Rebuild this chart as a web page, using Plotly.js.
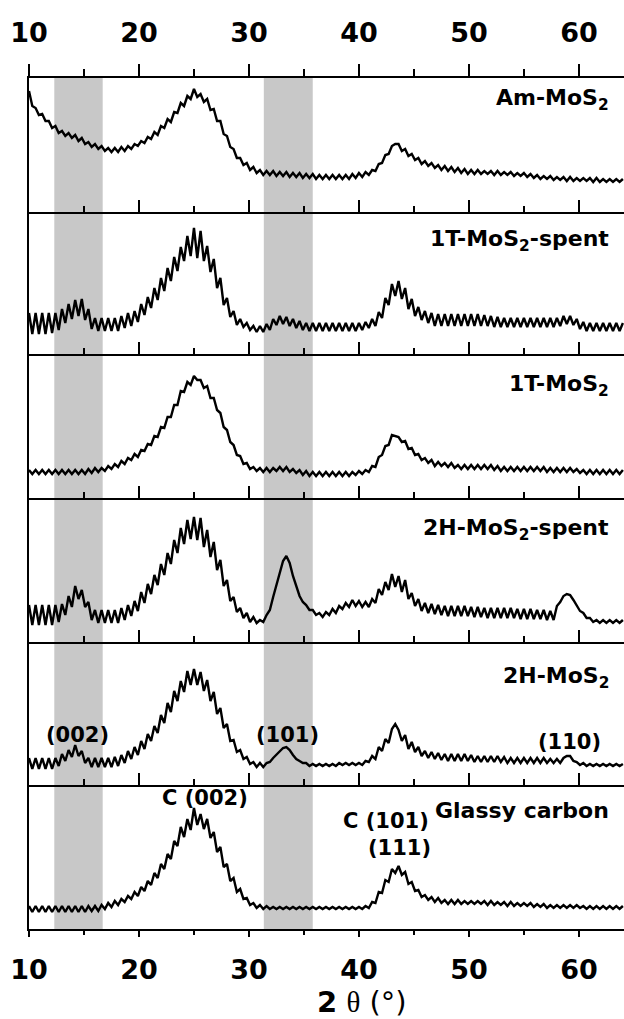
<!DOCTYPE html>
<html>
<head>
<meta charset="utf-8">
<script src="https://cdn.plot.ly/plotly-3.0.1.min.js"></script>
<style>
  html, body { margin: 0; padding: 0; background: #fff; }
  #chart { width: 624px; height: 1019px; }
</style>
</head>
<body>
<div id="chart"></div>
<script>
// Diffraction angle grid (degrees 2θ)
const twoTheta = [
  10, 10.3, 10.6, 10.9, 11.2, 11.5, 11.8, 12.1, 12.4, 12.7,
  13, 13.3, 13.6, 13.9, 14.2, 14.5, 14.8, 15.1, 15.4, 15.7,
  16, 16.3, 16.6, 16.9, 17.2, 17.5, 17.8, 18.1, 18.4, 18.7,
  19, 19.3, 19.6, 19.9, 20.2, 20.5, 20.8, 21.1, 21.4, 21.7,
  22, 22.3, 22.6, 22.9, 23.2, 23.5, 23.8, 24.1, 24.4, 24.7,
  25, 25.3, 25.6, 25.9, 26.2, 26.5, 26.8, 27.1, 27.4, 27.7,
  28, 28.3, 28.6, 28.9, 29.2, 29.5, 29.8, 30.1, 30.4, 30.7,
  31, 31.3, 31.6, 31.9, 32.2, 32.5, 32.8, 33.1, 33.4, 33.7,
  34, 34.3, 34.6, 34.9, 35.2, 35.5, 35.8, 36.1, 36.4, 36.7,
  37, 37.3, 37.6, 37.9, 38.2, 38.5, 38.8, 39.1, 39.4, 39.7,
  40, 40.3, 40.6, 40.9, 41.2, 41.5, 41.8, 42.1, 42.4, 42.7,
  43, 43.3, 43.6, 43.9, 44.2, 44.5, 44.8, 45.1, 45.4, 45.7,
  46, 46.3, 46.6, 46.9, 47.2, 47.5, 47.8, 48.1, 48.4, 48.7,
  49, 49.3, 49.6, 49.9, 50.2, 50.5, 50.8, 51.1, 51.4, 51.7,
  52, 52.3, 52.6, 52.9, 53.2, 53.5, 53.8, 54.1, 54.4, 54.7,
  55, 55.3, 55.6, 55.9, 56.2, 56.5, 56.8, 57.1, 57.4, 57.7,
  58, 58.3, 58.6, 58.9, 59.2, 59.5, 59.8, 60.1, 60.4, 60.7,
  61, 61.3, 61.6, 61.9, 62.2, 62.5, 62.8, 63.1, 63.4, 63.7,
  64
];

// Intensities (arbitrary units, each pattern on its own scale)
const amMoS2 = [
  121, 106, 104, 97, 98, 91, 91, 84, 86, 79,
  81, 76, 79, 74, 77, 71, 74, 68, 70, 65,
  68, 63, 66, 61, 64, 60, 64, 60, 65, 61,
  66, 63, 68, 66, 71, 69, 75, 73, 80, 77,
  86, 84, 93, 90, 100, 99, 109, 106, 116, 113,
  123, 115, 118, 110, 113, 102, 103, 91, 91, 78,
  76, 65, 63, 54, 54, 47, 49, 42, 45, 39,
  42, 37, 41, 37, 41, 36, 40, 36, 40, 35,
  39, 35, 39, 34, 38, 34, 38, 33, 37, 33,
  37, 33, 37, 33, 37, 33, 37, 33, 38, 34,
  39, 35, 40, 37, 42, 41, 48, 49, 57, 58,
  66, 68, 68, 61, 63, 56, 58, 52, 54, 48,
  51, 46, 49, 44, 47, 42, 46, 41, 45, 40,
  44, 39, 43, 38, 42, 38, 42, 38, 41, 38,
  41, 37, 41, 37, 40, 37, 40, 36, 39, 36,
  39, 35, 38, 34, 37, 33, 36, 33, 36, 32,
  35, 32, 35, 31, 35, 31, 34, 31, 34, 31,
  34, 30, 34, 30, 33, 30, 33, 30, 33, 30,
  33
];
const t1MoS2Spent = [
  41, 20, 41, 20, 41, 20, 41, 21, 41, 24,
  45, 31, 50, 35, 54, 38, 55, 34, 45, 25,
  36, 23, 36, 23, 36, 23, 36, 23, 38, 26,
  41, 28, 43, 32, 50, 39, 57, 46, 66, 54,
  76, 63, 86, 73, 97, 83, 107, 93, 118, 98,
  126, 96, 123, 93, 108, 82, 95, 66, 76, 49,
  56, 37, 43, 29, 35, 27, 31, 24, 28, 22,
  28, 22, 30, 24, 35, 29, 38, 30, 37, 28,
  35, 26, 33, 24, 31, 23, 31, 23, 31, 23,
  31, 23, 31, 23, 31, 23, 31, 23, 31, 23,
  31, 24, 32, 26, 35, 28, 42, 36, 56, 49,
  70, 58, 73, 55, 66, 45, 55, 38, 47, 34,
  43, 31, 41, 28, 40, 28, 40, 28, 40, 28,
  40, 28, 40, 28, 40, 28, 40, 28, 39, 28,
  38, 27, 37, 27, 36, 27, 36, 27, 36, 27,
  36, 27, 36, 27, 36, 27, 36, 27, 36, 27,
  36, 28, 38, 30, 38, 29, 35, 25, 32, 23,
  31, 23, 31, 23, 31, 23, 31, 23, 31, 23,
  31
];
const t1MoS2 = [
  28, 24, 28, 24, 28, 24, 28, 24, 28, 24,
  28, 24, 28, 24, 28, 24, 28, 24, 29, 25,
  30, 26, 30, 27, 32, 29, 34, 31, 37, 34,
  40, 38, 44, 41, 48, 47, 54, 53, 62, 61,
  71, 70, 81, 81, 93, 93, 107, 106, 116, 113,
  122, 118, 118, 110, 112, 100, 100, 88, 85, 71,
  68, 56, 53, 43, 42, 34, 35, 29, 31, 27,
  30, 26, 30, 26, 30, 27, 31, 27, 31, 26,
  29, 25, 28, 23, 27, 22, 26, 22, 26, 22,
  26, 22, 26, 22, 26, 22, 26, 22, 26, 23,
  27, 24, 28, 26, 32, 31, 41, 43, 52, 53,
  63, 62, 61, 56, 57, 49, 50, 43, 44, 38,
  40, 35, 38, 32, 36, 32, 35, 31, 35, 30,
  33, 29, 33, 29, 33, 29, 33, 29, 33, 29,
  33, 28, 32, 27, 31, 27, 31, 27, 31, 27,
  31, 27, 31, 27, 31, 27, 31, 26, 30, 26,
  30, 26, 30, 26, 30, 26, 29, 25, 28, 24,
  28, 24, 28, 24, 28, 24, 28, 24, 28, 24,
  28
];
const h2MoS2Spent = [
  37, 17, 37, 17, 37, 17, 37, 17, 37, 20,
  38, 27, 46, 35, 56, 43, 52, 35, 40, 22,
  32, 19, 32, 19, 32, 19, 32, 19, 34, 22,
  37, 26, 41, 31, 50, 39, 58, 48, 67, 57,
  78, 67, 89, 78, 102, 89, 114, 98, 122, 103,
  125, 102, 124, 95, 112, 85, 100, 72, 82, 56,
  62, 41, 45, 30, 34, 24, 29, 20, 25, 19,
  22, 20, 27, 32, 45, 58, 71, 81, 86, 79,
  66, 55, 46, 40, 37, 32, 32, 27, 29, 25,
  30, 27, 33, 29, 36, 33, 39, 35, 42, 36,
  41, 35, 40, 35, 43, 39, 53, 47, 60, 52,
  68, 55, 66, 50, 62, 43, 49, 36, 43, 31,
  39, 29, 38, 28, 37, 27, 36, 26, 36, 26,
  36, 26, 36, 26, 35, 25, 35, 25, 34, 24,
  34, 24, 34, 24, 34, 24, 34, 24, 33, 23,
  33, 23, 33, 23, 32, 23, 32, 22, 31, 22,
  36, 40, 46, 48, 47, 42, 36, 31, 29, 24,
  24, 20, 22, 19, 22, 19, 22, 19, 22, 19,
  22
];
const h2MoS2 = [
  27, 16, 27, 16, 27, 16, 27, 16, 27, 19,
  31, 24, 35, 28, 40, 29, 34, 22, 27, 18,
  27, 18, 27, 18, 27, 18, 28, 19, 30, 22,
  34, 26, 38, 30, 44, 36, 51, 44, 59, 52,
  70, 62, 82, 73, 94, 84, 104, 93, 114, 100,
  116, 100, 113, 94, 105, 84, 93, 71, 77, 57,
  61, 44, 45, 33, 35, 26, 28, 21, 23, 18,
  22, 18, 22, 23, 27, 30, 34, 37, 38, 35,
  30, 26, 24, 22, 22, 19, 21, 19, 21, 19,
  21, 19, 21, 19, 22, 20, 22, 20, 22, 20,
  22, 20, 24, 23, 29, 26, 38, 34, 46, 42,
  56, 61, 55, 44, 50, 36, 43, 33, 38, 29,
  34, 27, 33, 26, 32, 25, 31, 24, 31, 24,
  31, 24, 31, 24, 30, 23, 29, 23, 29, 23,
  29, 23, 29, 23, 28, 22, 27, 22, 27, 22,
  27, 22, 27, 22, 27, 22, 27, 22, 26, 22,
  26, 22, 27, 29, 29, 24, 23, 20, 22, 19,
  21, 19, 21, 19, 21, 19, 21, 19, 21, 19,
  21
];
const glassyCarbon = [
  23, 17, 23, 17, 23, 17, 23, 17, 23, 17,
  23, 17, 23, 17, 23, 17, 23, 17, 23, 18,
  23, 18, 24, 20, 26, 22, 28, 24, 30, 27,
  33, 30, 37, 33, 42, 38, 48, 44, 56, 51,
  65, 60, 75, 70, 88, 83, 102, 92, 110, 99,
  121, 104, 115, 100, 110, 91, 97, 77, 82, 62,
  65, 48, 51, 37, 40, 30, 31, 24, 26, 21,
  24, 20, 23, 20, 22, 20, 22, 20, 22, 20,
  22, 20, 22, 20, 22, 20, 22, 20, 22, 20,
  22, 20, 22, 20, 22, 20, 22, 20, 22, 20,
  22, 20, 23, 21, 27, 26, 37, 36, 49, 47,
  60, 56, 63, 54, 57, 45, 47, 38, 39, 32,
  34, 29, 32, 27, 31, 26, 29, 25, 29, 25,
  29, 25, 28, 25, 28, 25, 28, 25, 28, 24,
  28, 24, 27, 24, 27, 23, 27, 23, 26, 23,
  26, 23, 26, 22, 25, 22, 25, 21, 24, 21,
  24, 21, 24, 21, 24, 21, 24, 21, 23, 20,
  23, 20, 23, 20, 23, 20, 23, 20, 23, 20,
  23
];

const sampleNames = [
  'Am-MoS<sub>2</sub>',
  '1T-MoS<sub>2</sub>-spent',
  '1T-MoS<sub>2</sub>',
  '2H-MoS<sub>2</sub>-spent',
  '2H-MoS<sub>2</sub>',
  'Glassy carbon'
];
const patterns = [amMoS2, t1MoS2Spent, t1MoS2, h2MoS2Spent, h2MoS2, glassyCarbon];

// Highlighted 2θ windows around the MoS2 (002) and (101) reflections
const bandStart = [12.3, 31.35];
const bandEnd = [16.7, 35.8];

// Reflection labels: text and 2θ position
const peakText = ['(002)', '(101)', '(110)', 'C (002)', 'C (101)', '(111)'];
const peakAngle = [14.45, 33.5, 59.1, 26.0, 42.5, 43.65];

const tickVals = [10, 20, 30, 40, 50, 60];
const minorVals = [15, 25, 35, 45, 55];
const xRange = [10, 64.1];

// ---- geometry (pixels) ----
const W = 624, H = 1019;
const mL = 29, mR = 0, mT = 78, mB = 90;
const plotH = H - mT - mB;
// horizontal rules between stacked panels, top to bottom
const rules = [78, 212, 354, 498, 642, 785, 929];
const toPaper = py => (H - mB - py) / plotH;

const labelFont = { family: 'DejaVu Sans', size: 22, color: '#000', weight: 'bold' };
const peakFont = { family: 'DejaVu Sans', size: 21, color: '#000', weight: 'bold' };
const tickFont = { family: 'DejaVu Sans', size: 27, color: '#000', weight: 'bold' };

const data = [];
const layout = {
  width: W, height: H,
  margin: { l: mL, r: mR, t: mT, b: mB, pad: 0 },
  paper_bgcolor: '#fff', plot_bgcolor: 'rgba(0,0,0,0)',
  showlegend: false,
  shapes: [], annotations: []
};

const xBase = {
  range: xRange, showgrid: false, zeroline: false,
  showline: true, linecolor: '#000', linewidth: 2,
  tickmode: 'array', tickvals: tickVals, ticktext: tickVals.map(String),
  tickcolor: '#000', tickwidth: 2, fixedrange: true
};

patterns.forEach((vals, i) => {
  const yName = i === 0 ? 'yaxis' : 'yaxis' + (i + 1);
  const yId = i === 0 ? 'y' : 'y' + (i + 1);
  // the bottom panel carries the labelled x axis; the others get their own copies
  const isBottom = i === patterns.length - 1;
  const xId = isBottom ? 'x' : 'x' + (i + 2);
  const xName = isBottom ? 'xaxis' : 'xaxis' + (i + 2);
  const top = rules[i], bot = rules[i + 1];

  layout[yName] = {
    domain: [toPaper(bot), toPaper(top)],
    range: [0, bot - top],
    anchor: xId,
    showgrid: false, zeroline: false, showticklabels: false, ticks: '',
    showline: true, linecolor: '#000', linewidth: 2, fixedrange: true
  };

  if (isBottom) {
    layout[xName] = Object.assign({}, xBase, {
      anchor: yId, ticks: 'outside', ticklen: 6,
      showticklabels: true, tickfont: tickFont, ticklabelstandoff: 10,
      minor: { tickmode: 'array', tickvals: minorVals, ticks: 'outside', ticklen: 4, tickwidth: 2, tickcolor: '#000' }
    });
  } else {
    layout[xName] = Object.assign({}, xBase, {
      anchor: yId, matches: 'x', ticks: 'inside', ticklen: 12,
      showticklabels: false,
      minor: { tickmode: 'array', tickvals: minorVals, ticks: 'inside', ticklen: 6, tickwidth: 2, tickcolor: '#000' }
    });
  }

  data.push({
    type: 'scatter', mode: 'lines',
    x: twoTheta, y: vals,
    xaxis: xId, yaxis: yId,
    line: { color: '#000', width: 2.4 },
    hoverinfo: 'skip'
  });

  layout.annotations.push({
    xref: 'paper', yref: 'paper', x: (611 - mL) / (W - mL - mR),
    y: toPaper([99, 240, 385, 529, 677, 810][i]),
    xanchor: 'right', yanchor: 'middle', showarrow: false,
    text: sampleNames[i], font: labelFont
  });
});

// labelled axis along the top of the stack
layout.xaxis8 = Object.assign({}, xBase, {
  overlaying: 'x2', anchor: 'y', side: 'top',
  ticks: 'outside', ticklen: 12,
  showticklabels: true, tickfont: tickFont, ticklabelstandoff: 11,
  minor: { tickmode: 'array', tickvals: minorVals, ticks: 'outside', ticklen: 7, tickwidth: 2, tickcolor: '#000' }
});
data.push({ type: 'scatter', mode: 'lines', x: [], y: [], xaxis: 'x8', yaxis: 'y', hoverinfo: 'skip', showlegend: false });

bandStart.forEach((x0, i) => {
  layout.shapes.push({
    type: 'rect', xref: 'x', yref: 'paper',
    x0: x0, x1: bandEnd[i], y0: 0, y1: 1,
    fillcolor: '#c8c8c8', line: { width: 0 }, layer: 'below'
  });
});

const peakY = [735, 735, 742, 798, 821, 848];
peakText.forEach((t, i) => {
  layout.annotations.push({
    xref: 'x', yref: 'paper', x: peakAngle[i], y: toPaper(peakY[i]),
    xanchor: 'center', yanchor: 'middle', showarrow: false,
    text: t, font: peakFont
  });
});

// axis title
layout.annotations.push({
  xref: 'paper', yref: 'paper', x: (362 - mL) / (W - mL - mR), y: toPaper(1002),
  xanchor: 'center', yanchor: 'middle', showarrow: false,
  text: "<b>2</b> <span style=\"font-family:'Liberation Serif'\">θ</span> (°)",
  font: { family: 'DejaVu Sans', size: 29, color: '#000' }
});

Plotly.newPlot('chart', data, layout, { staticPlot: true, displayModeBar: false });
</script>
</body>
</html>
